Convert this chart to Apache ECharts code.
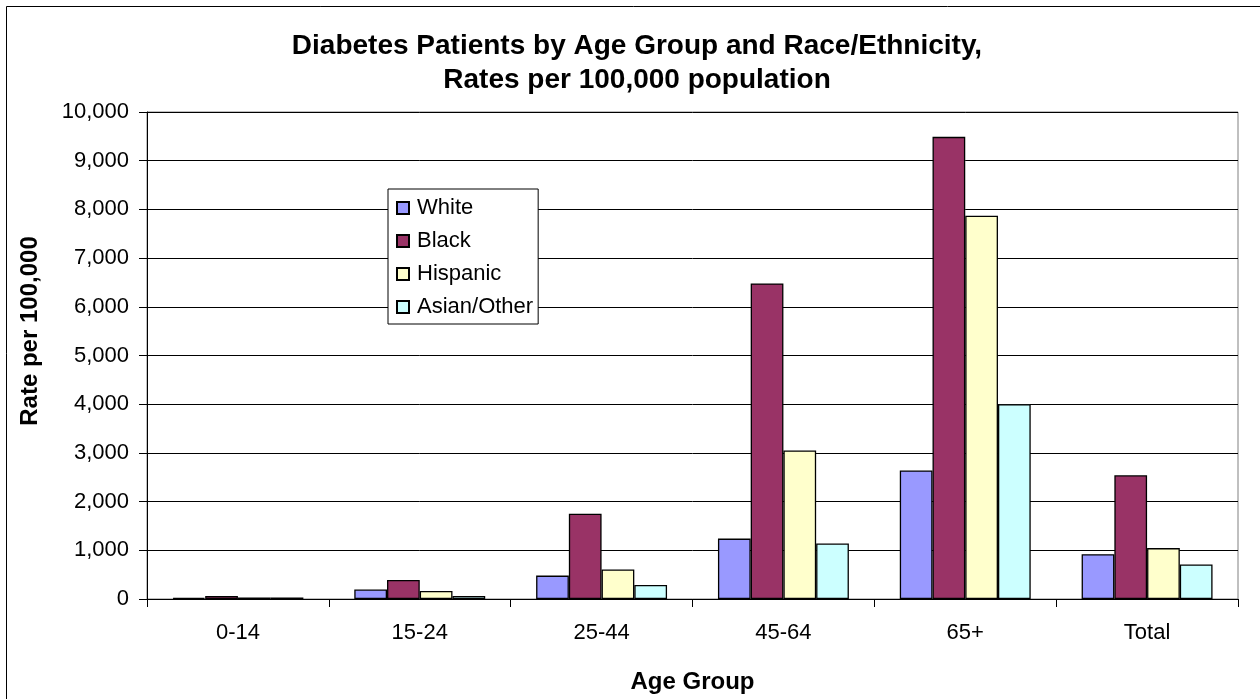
<!DOCTYPE html>
<html>
<head>
<meta charset="utf-8">
<script src="https://cdn.jsdelivr.net/npm/echarts@6/dist/echarts.min.js"></script>
<style>
html,body{margin:0;padding:0;background:#fff;}
#chart{width:1260px;height:699px;}
</style>
</head>
<body>
<div id="chart"></div>
<script>
var categories = ['0-14', '15-24', '25-44', '45-64', '65+', 'Total'];
var white = [25, 195, 480, 1240, 2640, 920];
var black = [62, 390, 1750, 6480, 9490, 2540];
var hispanic = [30, 165, 605, 3050, 7870, 1045];
var asianOther = [30, 62, 290, 1140, 4000, 710];
var seriesNames = ['White', 'Black', 'Hispanic', 'Asian/Other'];
var seriesColors = ['#9999FF', '#993366', '#FFFFCC', '#CCFFFF'];
var yMin = 0, yMax = 10000, yStep = 1000;

var FONT = 'Liberation Sans, Arial, sans-serif';
var chart = echarts.init(document.getElementById('chart'), null, {renderer: 'canvas'});
var dataSets = [white, black, hispanic, asianOther];

var series = dataSets.map(function (d, i) {
  return {
    name: seriesNames[i],
    type: 'bar',
    data: d,
    barGap: '0%',
    barCategoryGap: '28%',
    itemStyle: {color: seriesColors[i], borderColor: '#000', borderWidth: 1.3},
    emphasis: {disabled: true},
    animation: false
  };
});

chart.setOption({
  animation: false,
  backgroundColor: '#fff',
  title: {
    text: 'Diabetes Patients by Age Group and Race/Ethnicity,\nRates per 100,000 population',
    left: 637,
    top: 29,
    padding: 0,
    textAlign: 'center',
    textStyle: {fontFamily: FONT, fontWeight: 'bold', fontSize: 28, lineHeight: 34, color: '#000'}
  },
  graphic: [
    {type: 'rect', shape: {x: 6.5, y: 6.5, width: 1300, height: 800}, style: {fill: null, stroke: '#000', lineWidth: 1}, silent: true, z: 100},
    {type: 'text', x: 30, y: 331, rotation: Math.PI / 2,
     style: {text: 'Rate per 100,000', fontFamily: FONT, fontWeight: 'bold', fontSize: 24, fill: '#000', align: 'center', verticalAlign: 'middle'}}
  ],
  legend: {
    orient: 'vertical',
    left: 388,
    top: 189,
    padding: [8, 5, 6, 8],
    itemWidth: 12,
    itemHeight: 12,
    itemGap: 11,
    icon: 'rect',
    backgroundColor: '#fff',
    borderColor: '#000',
    borderWidth: 1,
    borderRadius: 0,
    selectedMode: false,
    textStyle: {fontFamily: FONT, fontSize: 22, color: '#000', padding: [0, 0, 0, 3]},
    data: seriesNames
  },
  grid: {
    left: 147, right: 22, top: 112, bottom: 100,
    show: true, borderColor: '#808080', borderWidth: 1, backgroundColor: 'transparent',
    containLabel: false
  },
  xAxis: {
    type: 'category',
    data: categories,
    name: 'Age Group',
    nameLocation: 'middle',
    nameGap: 71,
    nameTextStyle: {fontFamily: FONT, fontWeight: 'bold', fontSize: 24, color: '#000'},
    axisLine: {lineStyle: {color: '#000', width: 1}},
    axisTick: {show: true, length: 8, inside: false, lineStyle: {color: '#000'}},
    axisLabel: {fontFamily: FONT, fontSize: 22, color: '#000', margin: 23},
    splitLine: {show: false}
  },
  yAxis: {
    type: 'value',
    min: yMin, max: yMax, interval: yStep,
    axisLine: {show: true, lineStyle: {color: '#000', width: 1}},
    axisTick: {show: true, length: 8, inside: false, lineStyle: {color: '#000'}},
    axisLabel: {
      fontFamily: FONT, fontSize: 22, color: '#000', margin: 18,
      formatter: function (v) { return v.toString().replace(/\B(?=(\d{3})+(?!\d))/g, ','); }
    },
    splitLine: {show: true, lineStyle: {color: '#000', width: 1}}
  },
  series: series
});
</script>
</body>
</html>
